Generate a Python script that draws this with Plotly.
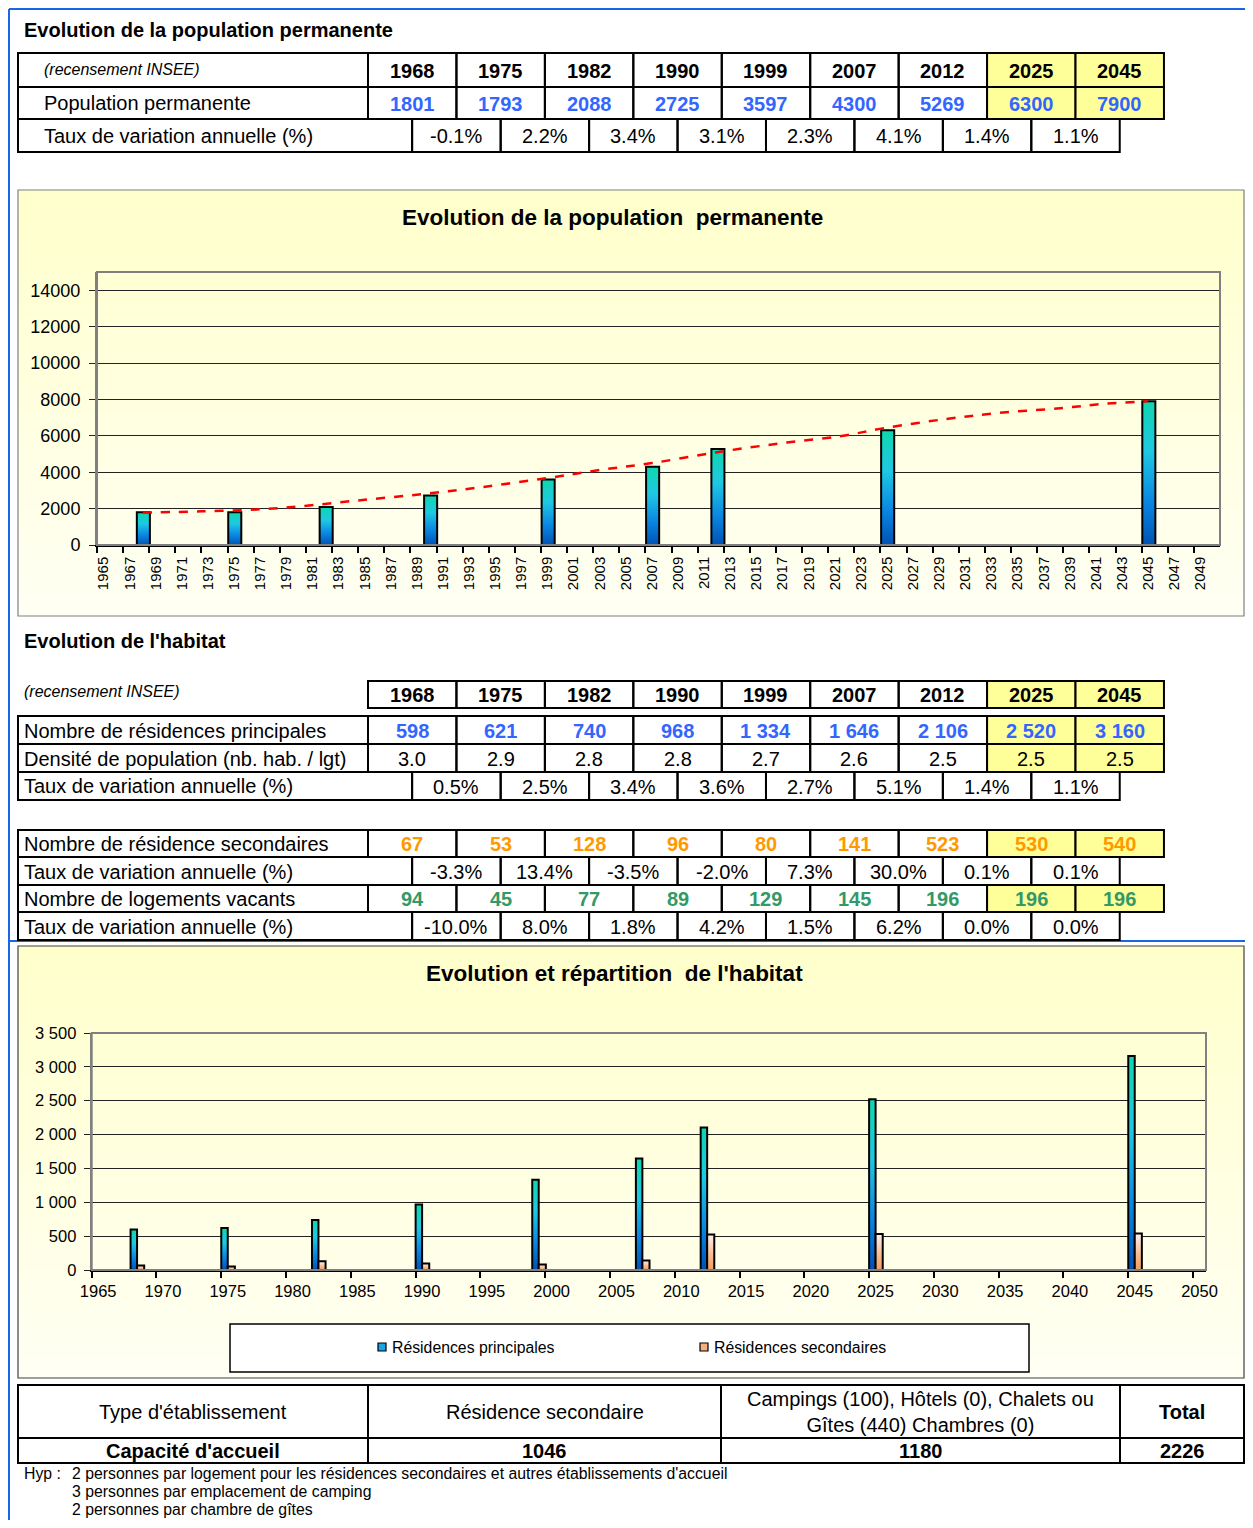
import plotly.graph_objects as go

# the page body adds an 8px margin: the figure fills the rest of the 1253x1528 window
OX, OY = 8, 8
W, H = 1253 - 2 * OX, 1528 - 2 * OY
FONT = "Liberation Sans, Arial, sans-serif"

# --- Data ---
years = [1968, 1975, 1982, 1990, 1999, 2007, 2012, 2025, 2045]
population = [1801, 1793, 2088, 2725, 3597, 4300, 5269, 6300, 7900]
pop_rate = [-0.1, 2.2, 3.4, 3.1, 2.3, 4.1, 1.4, 1.1]

res_principales = [598, 621, 740, 968, 1334, 1646, 2106, 2520, 3160]
densite = [3.0, 2.9, 2.8, 2.8, 2.7, 2.6, 2.5, 2.5, 2.5]
rp_rate = [0.5, 2.5, 3.4, 3.6, 2.7, 5.1, 1.4, 1.1]
res_secondaires = [67, 53, 128, 96, 80, 141, 523, 530, 540]
rs_rate = [-3.3, 13.4, -3.5, -2.0, 7.3, 30.0, 0.1, 0.1]
log_vacants = [94, 45, 77, 89, 129, 145, 196, 196, 196]
lv_rate = [-10.0, 8.0, 1.8, 4.2, 1.5, 6.2, 0.0, 0.0]
projected = [2025, 2045]

# dashed trend line of chart 1
trend_x = [1968.5, 1973, 1977.5, 1980.5, 1985, 1990, 1994.5, 1999.5, 2003.5, 2007.5,
           2012.5, 2017.5, 2022, 2025.5, 2030, 2034, 2039, 2042, 2045.5]
trend_y = [1780, 1850, 1960, 2120, 2450, 2800, 3180, 3680, 4120, 4500,
           5100, 5600, 5990, 6450, 6920, 7250, 7530, 7750, 7900]

axis1_years = list(range(1965, 2050, 2))
axis1_values = list(range(0, 14001, 2000))
axis2_years = list(range(1965, 2051, 5))
axis2_values = list(range(0, 3501, 500))

cap_types = ["Type d'établissement", "Résidence secondaire",
             "Campings (100), Hôtels (0), Chalets ou<br>Gîtes (440) Chambres (0)", "Total"]
cap_values = ["Capacité d'accueil", 1046, 1180, 2226]

hyp_lines = ["2 personnes par logement pour les résidences secondaires et autres établissements d'accueil",
             "3 personnes par emplacement de camping",
             "2 personnes par chambre de gîtes"]

BLUE_TXT = "#3366FF"
ORANGE_TXT = "#FF9900"
GREEN_TXT = "#339966"
YELLOW = "#FFFF99"
RIGHT = 1244  # right-most usable pixel of the window


def px(x):
    return (x - OX) / W


def py(y):
    return 1 - (y - OY) / H


shapes = []
annotations = []


def box(x0, y0, x1, y1, fill=None, line="black", lw=2, layer="above"):
    shapes.append(dict(type="rect", xref="paper", yref="paper",
                       x0=px(x0), x1=px(x1), y0=py(y1), y1=py(y0),
                       fillcolor=fill or "rgba(0,0,0,0)",
                       line=dict(color=line, width=lw), layer=layer))


def hline(x0, x1, y, color, lw=2):
    shapes.append(dict(type="line", xref="paper", yref="paper",
                       x0=px(x0), x1=px(x1), y0=py(y), y1=py(y),
                       line=dict(color=color, width=lw)))


def vline(x, y0, y1, color, lw=2):
    shapes.append(dict(type="line", xref="paper", yref="paper",
                       x0=px(x), x1=px(x), y0=py(y0), y1=py(y1),
                       line=dict(color=color, width=lw)))


def text(x, y, s, size=20, color="black", bold=False, italic=False, anchor="center"):
    if bold:
        s = f"<b>{s}</b>"
    if italic:
        s = f"<i>{s}</i>"
    annotations.append(dict(xref="paper", yref="paper", x=px(x), y=py(y), text=s,
                            showarrow=False, xanchor=anchor, yanchor="middle",
                            font=dict(family=FONT, size=size, color=color)))


def fmt_int(v):
    return f"{v:,}".replace(",", " ")


def gradient_panel(x0, y0, x1, y1, border, n=40):
    step = (y1 - y0) / n
    for i in range(n):
        t = i / (n - 1)
        b = int(204 + (244 - 204) * t)
        box(x0, y0 + i * step, x1, y0 + (i + 1) * step + 0.5,
            fill=f"rgb(255,255,{b})", lw=0, layer="below")
    box(x0, y0, x1, y1, line=border, lw=1.2, layer="below")


# column grid shared by the tables
col_x = [368 + i * 88.44 for i in range(10)]
mid_x = [c + 44.22 for c in col_x[:9]]

# --- page frame (blue) ---
hline(9, 1246, 9, "#1A66E6", 2)
vline(9, 9, 1521, "#1A66E6", 2)
hline(9, 1246, 941, "#1A66E6", 2)

# --- Table 1 : population ---
text(22, 30, "Evolution de la population permanente", size=20, bold=True, anchor="left")
box(18, 53, 368, 87)
text(42, 69, "(recensement INSEE)", size=16, italic=True, anchor="left")
box(18, 87, 368, 119)
text(42, 103, "Population permanente", size=20, anchor="left")
box(18, 119, 412, 152)
text(42, 136, "Taux de variation annuelle (%)", size=20, anchor="left")
for i, yr in enumerate(years):
    fill = YELLOW if yr in projected else None
    box(col_x[i], 53, col_x[i + 1], 87, fill=fill)
    text((col_x[i] + col_x[i + 1]) / 2, 71, yr, size=20, bold=True)
    box(col_x[i], 87, col_x[i + 1], 119, fill=fill)
    text((col_x[i] + col_x[i + 1]) / 2, 104, population[i], size=20, bold=True, color=BLUE_TXT)
for i, r in enumerate(pop_rate):
    box(mid_x[i], 119, mid_x[i + 1], 152)
    text((mid_x[i] + mid_x[i + 1]) / 2, 136, f"{r:.1f}%", size=20)

# --- Chart 1 panel ---
gradient_panel(18, 190, RIGHT, 616, "#808080")
text(612, 217, "Evolution de la population  permanente", size=22.5, bold=True)
box(97, 272, 1220, 545, line="#808080", lw=2)

# --- Table 2 : habitat ---
text(22, 641, "Evolution de l'habitat", size=20, bold=True, anchor="left")
text(22, 692, "(recensement INSEE)", size=16, italic=True, anchor="left")
for i, yr in enumerate(years):
    fill = YELLOW if yr in projected else None
    cx = (col_x[i] + col_x[i + 1]) / 2
    box(col_x[i], 681, col_x[i + 1], 708, fill=fill)
    text(cx, 695, yr, size=20, bold=True)
    box(col_x[i], 716, col_x[i + 1], 744, fill=fill)
    text(cx, 731, fmt_int(res_principales[i]), size=20, bold=True, color=BLUE_TXT)
    box(col_x[i], 744, col_x[i + 1], 772, fill=fill)
    text(cx, 759, f"{densite[i]:.1f}", size=20)
    box(col_x[i], 830, col_x[i + 1], 857, fill=fill)
    text(cx, 844, fmt_int(res_secondaires[i]), size=20, bold=True, color=ORANGE_TXT)
    box(col_x[i], 885, col_x[i + 1], 912, fill=fill)
    text(cx, 899, fmt_int(log_vacants[i]), size=20, bold=True, color=GREEN_TXT)

box(18, 716, 368, 744)
text(22, 731, "Nombre de résidences principales", size=20, anchor="left")
box(18, 744, 368, 772)
text(22, 759, "Densité de population (nb. hab. / lgt)", size=20, anchor="left")
box(18, 772, 412, 800)
text(22, 786, "Taux de variation annuelle (%)", size=20, anchor="left")
box(18, 830, 368, 857)
text(22, 844, "Nombre de résidence secondaires", size=20, anchor="left")
box(18, 857, 412, 885)
text(22, 872, "Taux de variation annuelle (%)", size=20, anchor="left")
box(18, 885, 368, 912)
text(22, 899, "Nombre de logements vacants", size=20, anchor="left")
box(18, 912, 412, 940)
text(22, 927, "Taux de variation annuelle (%)", size=20, anchor="left")
for rates, (y0, y1) in [(rp_rate, (772, 800)), (rs_rate, (857, 885)), (lv_rate, (912, 940))]:
    for i, r in enumerate(rates):
        box(mid_x[i], y0, mid_x[i + 1], y1)
        text((mid_x[i] + mid_x[i + 1]) / 2, (y0 + y1) / 2 + 1, f"{r:.1f}%", size=20)

# --- Chart 2 panel ---
gradient_panel(18, 946, RIGHT, 1378, "#404040")
text(614, 973, "Evolution et répartition  de l'habitat", size=22.5, bold=True)
box(91.7, 1033, 1206, 1270, line="#808080", lw=2)
box(230, 1324, 1029, 1372, fill="white", line="black", lw=1.5)
box(378, 1343, 386, 1351, fill="#19A4E2", line="black", lw=1.2)
text(390, 1347, "Résidences principales", size=15.8, anchor="left")
box(700, 1343, 708, 1351, fill="#F6B07E", line="black", lw=1.2)
text(712, 1347, "Résidences secondaires", size=15.8, anchor="left")

# --- Capacity table ---
cap_cols = [18, 368, 721, 1120, RIGHT]
for i in range(4):
    box(cap_cols[i], 1385, cap_cols[i + 1], 1438)
    box(cap_cols[i], 1438, cap_cols[i + 1], 1463)
    cx = (cap_cols[i] + cap_cols[i + 1]) / 2
    text(cx, 1412, cap_types[i], size=20, bold=(i == 3))
    text(cx, 1451, cap_values[i], size=20, bold=True)
text(22, 1473, "Hyp :", size=15.8, anchor="left")
for k, line in enumerate(hyp_lines):
    text(70, 1473 + k * 18, line, size=15.8, anchor="left")

# --- Traces ---
fig = go.Figure()

BLUE_GRAD = [[0, "#0052B4"], [0.3, "#0A86E2"], [0.65, "#1FC8E2"], [1, "#10D6AE"]]
ORANGE_GRAD = [[0, "#F29C5C"], [0.45, "#F7BE94"], [1, "#FFF0F0"]]

for yr, v in zip(years, population):
    fig.add_trace(go.Scatter(
        x=[yr + 0.05, yr + 0.05, yr + 1.05, yr + 1.05, yr + 0.05], y=[0, v, v, 0, 0],
        mode="lines", fill="toself",
        fillgradient=dict(type="vertical", colorscale=BLUE_GRAD),
        line=dict(color="black", width=2), showlegend=False, hoverinfo="skip",
        xaxis="x", yaxis="y"))

fig.add_trace(go.Scatter(
    x=trend_x, y=trend_y, mode="lines",
    line=dict(color="#FF0000", width=2.5, dash="dash", shape="spline"),
    showlegend=False, hoverinfo="skip", xaxis="x", yaxis="y"))

for yr, v1, v2 in zip(years, res_principales, res_secondaires):
    fig.add_trace(go.Scatter(
        x=[yr, yr, yr + 0.5, yr + 0.5, yr], y=[0, v1, v1, 0, 0],
        mode="lines", fill="toself",
        fillgradient=dict(type="vertical", colorscale=BLUE_GRAD),
        line=dict(color="black", width=2), showlegend=False, hoverinfo="skip",
        xaxis="x2", yaxis="y2"))
    fig.add_trace(go.Scatter(
        x=[yr + 0.5, yr + 0.5, yr + 1.05, yr + 1.05, yr + 0.5], y=[0, v2, v2, 0, 0],
        mode="lines", fill="toself",
        fillgradient=dict(type="vertical", colorscale=ORANGE_GRAD),
        line=dict(color="black", width=2), showlegend=False, hoverinfo="skip",
        xaxis="x2", yaxis="y2"))

fig.update_layout(
    width=W, height=H,
    margin=dict(l=0, r=0, t=0, b=0, pad=0, autoexpand=False),
    paper_bgcolor="white",
    plot_bgcolor="rgba(0,0,0,0)",
    showlegend=False,
    font=dict(family=FONT, color="black"),
    xaxis=dict(
        domain=[px(97), px(1220)], range=[1965, 2051], anchor="y", automargin=False,
        tickmode="array", tickvals=[y + 0.5 for y in axis1_years],
        ticktext=[str(y) for y in axis1_years], tickangle=-90, ticks="",
        ticklabelstandoff=4,
        tickfont=dict(size=15), showgrid=False, zeroline=False,
        showline=True, linecolor="black", linewidth=1.5,
        minor=dict(tickmode="array", tickvals=axis1_years, ticks="outside",
                   ticklen=6, tickcolor="black", tickwidth=1.5, showgrid=False)),
    yaxis=dict(
        domain=[py(545), py(272)], range=[0, 15000], anchor="x", automargin=False,
        tickmode="array", tickvals=axis1_values, ticktext=[str(v) for v in axis1_values],
        ticks="outside", ticklen=6, tickcolor="#222", ticklabelstandoff=5,
        tickfont=dict(size=18), showgrid=True, gridcolor="#222", gridwidth=1,
        zeroline=False, showline=True, linecolor="#808080", linewidth=2),
    xaxis2=dict(
        domain=[px(91.7), px(1206)], range=[1965, 2051], anchor="y2", automargin=False,
        tickmode="array", tickvals=[y + 0.5 for y in axis2_years],
        ticktext=[str(y) for y in axis2_years], ticks="", ticklabelstandoff=5,
        tickfont=dict(size=16.5), showgrid=False,
        zeroline=False, showline=True, linecolor="black", linewidth=1.5,
        minor=dict(tickmode="array", tickvals=axis2_years, ticks="outside",
                   ticklen=6, tickcolor="black", tickwidth=1.5, showgrid=False)),
    yaxis2=dict(
        domain=[py(1270), py(1033)], range=[0, 3500], anchor="x2", automargin=False,
        tickmode="array", tickvals=axis2_values,
        ticktext=[fmt_int(v) for v in axis2_values],
        ticks="outside", ticklen=6, tickcolor="#222", ticklabelstandoff=4,
        tickfont=dict(size=16.5), showgrid=True, gridcolor="#222", gridwidth=1,
        zeroline=False, showline=True, linecolor="#808080", linewidth=2),
    shapes=shapes,
    annotations=annotations,
)

fig.write_html("out.html")
